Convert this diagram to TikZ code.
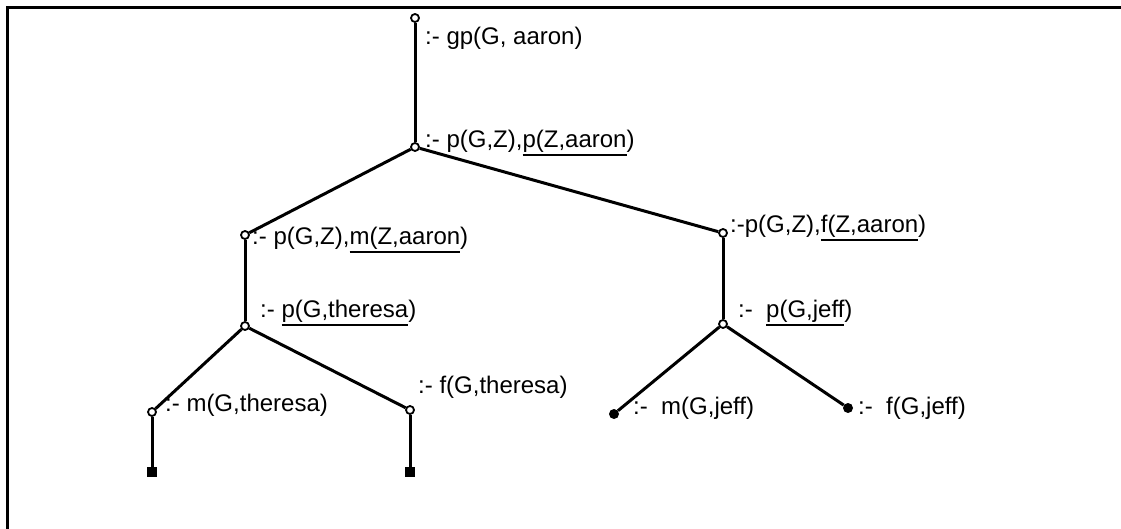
\documentclass[tikz,border=0pt]{standalone}
\usepackage{fontspec}
\setmainfont{Liberation Sans}
% underline that sits below the descenders
\newcommand{\ulin}[1]{\setbox0=\hbox{#1}\leavevmode\rlap{\rule[-\dimexpr\dp0+3pt\relax]{\wd0}{2pt}}\copy0}
\tikzset{
  vtx/.style={circle,draw,fill=white,inner sep=0pt,minimum size=8pt,line width=1.8pt},
  dotnode/.style={circle,fill,inner sep=0pt,minimum size=10pt},
  leafbox/.style={rectangle,fill,inner sep=0pt,minimum size=10pt},
  edge/.style={line width=3pt},
  lbl/.style={anchor=west,inner sep=0pt,font=\fontsize{24}{28}\selectfont}
}
\begin{document}
\begin{tikzpicture}[x=1pt,y=-1pt]
\useasboundingbox (0,0) rectangle (1121,529);
% frame
\draw[line width=3pt] (7,529) -- (7,8) -- (1121,8);

% tree vertices
\node[vtx] (r)  at (415,18)  {};
\node[vtx] (n1) at (415,147) {};
\node[vtx] (n2) at (245,235) {};
\node[vtx] (n3) at (723,233) {};
\node[vtx] (n4) at (245,326) {};
\node[vtx] (n5) at (723,324) {};
\node[vtx] (n6) at (152,412) {};
\node[vtx] (n7) at (410,410) {};
\node[dotnode] (n8) at (614,414) {};
\node[dotnode] (n9) at (848,408) {};
\node[leafbox] (s1) at (152,472) {};
\node[leafbox] (s2) at (410,472) {};

% branches
\draw[edge] (r) -- (n1);
\draw[edge] (n1) -- (n2);
\draw[edge] (n1) -- (n3);
\draw[edge] (n2) -- (n4);
\draw[edge] (n3) -- (n5);
\draw[edge] (n4) -- (n6);
\draw[edge] (n4) -- (n7);
\draw[edge] (n5) -- (n8);
\draw[edge] (n5) -- (n9);
\draw[edge] (n6) -- (s1);
\draw[edge] (n7) -- (s2);

% goals
\node[lbl] (lr) at (425,38)  {:- gp(G, aaron)};
\node[lbl] (l1) at (425,143) {:- p(G,Z),\ulin{p(Z,aaron})};
\node[lbl] (l2) at (252,240) {:- p(G,Z),\ulin{m(Z,aaron})};
\node[lbl] (l3) at (730,228) {:-p(G,Z),\ulin{f(Z,aaron})};
\node[lbl] (l4) at (260,313) {:- \ulin{p(G,theresa})};
\node[lbl] (l5) at (738,313) {:-\ \ \ulin{p(G,jeff})};
\node[lbl] (l6) at (165,405) {:- m(G,theresa)};
\node[lbl] (l7) at (418,387) {:- f(G,theresa)};
\node[lbl] (l8) at (633,408) {:-\ \ m(G,jeff)};
\node[lbl] (l9) at (858,408) {:-\ \ f(G,jeff)};
\end{tikzpicture}
\end{document}
